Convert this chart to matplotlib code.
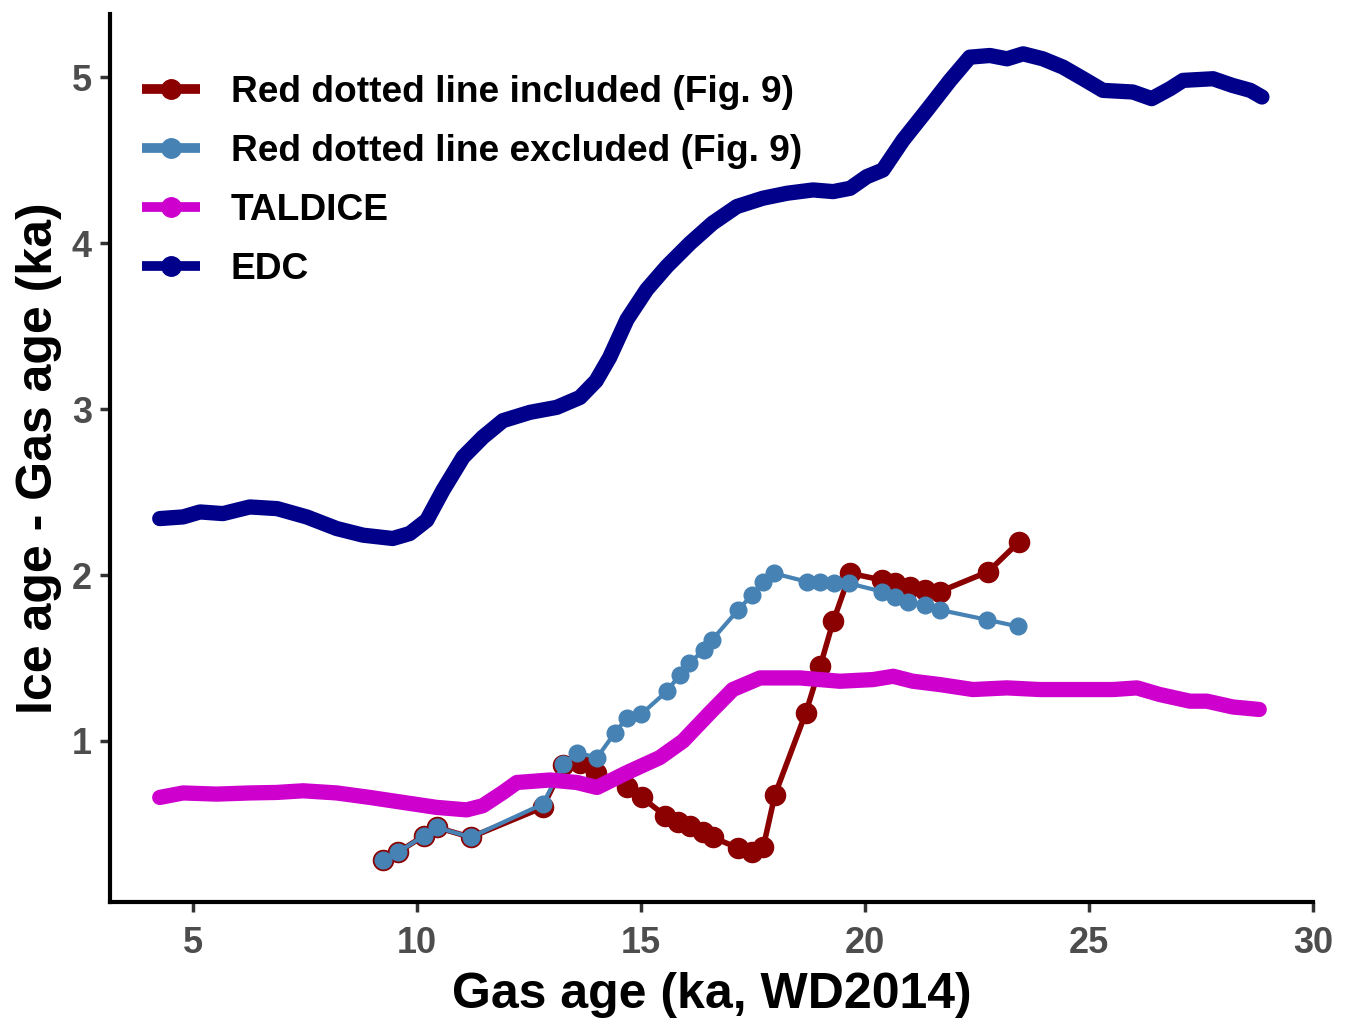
import matplotlib
matplotlib.use("Agg")
import matplotlib.pyplot as plt
from matplotlib.lines import Line2D

# ---------------- data ----------------
red_x = [9.24, 9.58, 10.16, 10.44, 11.2, 12.81, 13.27, 13.64, 14.0, 14.7, 15.02, 15.54, 15.83,
         16.1, 16.38, 16.6, 17.17, 17.48, 17.73, 17.99, 18.68, 19.0, 19.29, 19.67, 20.38, 20.67,
         21.0, 21.34, 21.67, 22.75, 23.44]
red_y = [0.283, 0.33, 0.43, 0.48, 0.42, 0.60, 0.855, 0.87, 0.81, 0.72, 0.66, 0.55, 0.51,
         0.49, 0.45, 0.42, 0.355, 0.33, 0.36, 0.675, 1.17, 1.45, 1.72, 2.01, 1.97, 1.95,
         1.93, 1.91, 1.90, 2.02, 2.20]

blue_x = [9.24, 9.58, 10.16, 10.44, 11.2, 12.81, 13.27, 13.57, 14.02, 14.42, 14.69, 15.0, 15.58,
          15.87, 16.08, 16.41, 16.59, 17.17, 17.48, 17.73, 17.97, 18.7, 18.99, 19.3, 19.64, 20.38,
          20.67, 20.96, 21.34, 21.67, 22.73, 23.42]
blue_y = [0.283, 0.33, 0.43, 0.48, 0.42, 0.62, 0.86, 0.93, 0.90, 1.05, 1.14, 1.16, 1.30,
          1.40, 1.47, 1.55, 1.61, 1.79, 1.88, 1.96, 2.01, 1.96, 1.96, 1.95, 1.95, 1.90,
          1.87, 1.84, 1.82, 1.79, 1.73, 1.69]

tal_x = [4.26, 4.78, 5.53, 6.27, 6.87, 7.46, 8.21, 8.95, 9.69, 10.44, 11.11, 11.47, 11.92, 12.23,
         12.97, 13.57, 14.02, 14.69, 15.42, 15.94, 16.54, 17.05, 17.66, 18.55, 19.44, 20.18, 20.63,
         21.07, 21.67, 22.41, 23.17, 23.9, 24.64, 25.54, 26.07, 26.58, 27.25, 27.63, 28.21, 28.8]
tal_y = [0.66, 0.687, 0.68, 0.687, 0.69, 0.70, 0.687, 0.66, 0.63, 0.60, 0.585, 0.61, 0.69, 0.75,
         0.765, 0.75, 0.72, 0.81, 0.90, 1.0, 1.17, 1.31, 1.38, 1.38, 1.36, 1.37, 1.39,
         1.36, 1.34, 1.31, 1.32, 1.31, 1.31, 1.31, 1.32, 1.28, 1.24, 1.24, 1.205, 1.19]

edc_x = [4.26, 4.78, 5.16, 5.67, 6.27, 6.88, 7.54, 8.21, 8.8, 9.46, 9.84, 10.22, 10.58, 11.03,
         11.47, 11.92, 12.52, 13.12, 13.64, 14.0, 14.3, 14.69, 15.13, 15.58, 16.1, 16.6, 17.14,
         17.72, 18.26, 18.84, 19.29, 19.67, 20.04, 20.4, 20.85, 21.38, 21.9, 22.34, 22.79, 23.17,
         23.53, 23.97, 24.42, 24.87, 25.31, 25.98, 26.4, 26.81, 27.1, 27.77, 28.2, 28.6, 28.86]
edc_y = [2.34, 2.35, 2.38, 2.37, 2.41, 2.40, 2.35, 2.28, 2.24, 2.22, 2.25, 2.33, 2.51, 2.71,
         2.83, 2.93, 2.98, 3.01, 3.07, 3.17, 3.31, 3.54, 3.72, 3.86, 4.0, 4.12, 4.22,
         4.27, 4.30, 4.32, 4.31, 4.33, 4.40, 4.44, 4.62, 4.80, 4.98, 5.12, 5.13, 5.11,
         5.14, 5.11, 5.06, 4.99, 4.92, 4.91, 4.87, 4.93, 4.98, 4.99, 4.95, 4.92, 4.88]

labels = ["Red dotted line included (Fig. 9)", "Red dotted line excluded (Fig. 9)", "TALDICE", "EDC"]
colors = ["#8B0000", "#4682B4", "#CD00CD", "#00008B"]
x_ticks = [5, 10, 15, 20, 25, 30]
y_ticks = [1, 2, 3, 4, 5]

# ---------------- figure ----------------
plt.rcParams['font.family'] = ['Liberation Sans', 'DejaVu Sans']
plt.rcParams['font.weight'] = 'bold'

fig = plt.figure(figsize=(13.45, 10.30), dpi=100)
ax = fig.add_axes([110/1345, 1 - 902/1030, (1313 - 110)/1345, (902 - 14)/1030])

ax.plot(red_x, red_y, color=colors[0], lw=4, marker='o', ms=14.5, zorder=2)
ax.plot(blue_x, blue_y, color=colors[1], lw=3, marker='o', ms=12, zorder=3)
ax.plot(tal_x, tal_y, color=colors[2], lw=11, solid_capstyle='round', solid_joinstyle='round', zorder=4)
ax.plot(edc_x, edc_y, color=colors[3], lw=11, solid_capstyle='round', solid_joinstyle='round', zorder=5)

ax.set_xlim(3.15, 30.0)
ax.set_ylim(0.03, 5.38)
ax.set_xticks(x_ticks)
ax.set_yticks(y_ticks)

for s in ['top', 'right']:
    ax.spines[s].set_visible(False)
for s in ['left', 'bottom']:
    ax.spines[s].set_linewidth(3)
    ax.spines[s].set_color('black')

ax.tick_params(axis='both', length=7, width=2.5, color='#333333',
               labelsize=26, labelcolor='#4D4D4D')
ax.tick_params(axis='x', pad=10)
ax.tick_params(axis='y', pad=6)
for lab in ax.get_xticklabels() + ax.get_yticklabels():
    lab.set_fontweight('bold')

ax.set_xlabel("Gas age (ka, WD2014)", fontsize=36, fontweight='bold', labelpad=8)
ax.set_ylabel("Ice age - Gas age (ka)", fontsize=36, fontweight='bold', labelpad=7)

handles = [Line2D([0], [0], color=c, lw=7, marker='o', ms=14, solid_capstyle='butt') for c in colors]
leg = ax.legend(handles, labels, loc='upper left', bbox_to_anchor=(123/1345, 1 - 56/1030),
                bbox_transform=fig.transFigure, frameon=False, fontsize=26.7,
                handlelength=1.57, handletextpad=0.83, labelspacing=0.655, borderpad=0)
for t in leg.get_texts():
    t.set_fontweight('bold')

fig.savefig("out.png", dpi=100)
